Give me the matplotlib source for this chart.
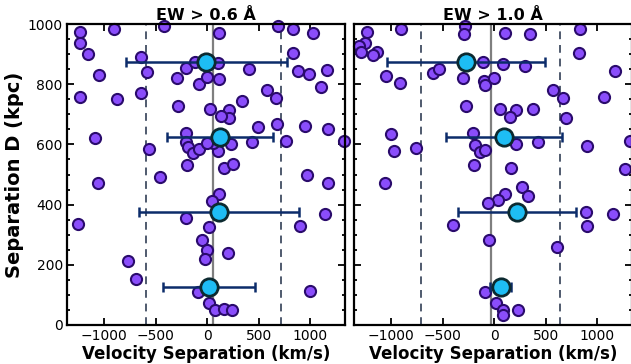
import numpy as np
import matplotlib
matplotlib.use("Agg")
import matplotlib.pyplot as plt
from matplotlib.ticker import MultipleLocator, AutoMinorLocator

# EW > 0.6 A sample
vel_06 = [-1232, -1238, -1152, -909, -419, -1048, -1232, -877, -642, -587, -645, -296, -206, -119,
          -77, -6, -281, 26, 116, 687, 833, 1026, 827, 875, 988, 1162, 1107, 404, 575, 665, 339,
          116, 106, 213, 213, 130, 494, 672, 946, 1166, 1323, 762, 430, 227, 106, 58, 162, 246,
          962, 1171, -1088, -561, -206, -206, -184, -141, -77, -6, -199, -458, -1055, 116, 43,
          -206, 19, -1258, 897, 1139, -54, -6, -22, 203, -771, -690, -87, 19, 75, 162, 242, 994]
dist_06 = [972, 936, 899, 983, 994, 831, 758, 750, 889, 840, 772, 820, 853, 875,
           800, 823, 728, 717, 969, 994, 983, 969, 903, 844, 834, 847, 790, 850, 781, 753, 745,
           816, 869, 714, 687, 694, 659, 667, 661, 650, 612, 612, 609, 601, 579, 604, 521, 535,
           498, 473, 622, 584, 639, 609, 592, 572, 584, 606, 532, 493, 473, 435, 413,
           354, 325, 335, 329, 369, 282, 249, 218, 238, 214, 152, 111, 74, 50, 52, 50, 113]

# EW > 1.0 A sample
vel_10 = [-1235, -1255, -1310, -1290, -1140, -1175, -905, -1050, -914, -594, -536, -286, -290, -300,
          -109, -99, -92, -5, -277, 107, 351, 830, 823, 1170, 85, 296, 568, 662, 1063, 58, 212,
          150, 377, 694, -998, -975, -755, -202, -185, -141, -88, -197, 215, 425, 895, 1316, 160,
          1267, -1060, 268, 328, 102, 37, -65, 888, 895, 1148, -400, -55, 607, -92, 18, 80, 83, 231]
dist_10 = [972, 936, 928, 908, 906, 897, 983, 828, 803, 838, 849, 994, 966, 820,
           873, 810, 797, 822, 728, 969, 966, 983, 903, 845, 866, 862, 781, 753, 758, 717, 714,
           691, 717, 689, 634, 578, 589, 638, 598, 576, 582, 532, 601, 607, 595, 612, 523,
           517, 473, 457, 428, 436, 414, 405, 376, 329, 368, 332, 284, 259, 111, 73, 51, 33, 51]

# binned means
bin_d = [125, 375, 625, 875]
bin_v_06 = [15, 112, 123, -9]
bin_err_06 = [447, 776, 516, 781]
bin_v_10 = [63, 218, 90, -275]
bin_err_10 = [100, 570, 562, 768]

center_06, lo_06, hi_06 = 55, -593, 713
center_10, lo_10, hi_10 = -35, -706, 636

fig = plt.figure(figsize=(6.31, 3.64), dpi=100)
ax1 = fig.add_axes([67 / 631, 39 / 364, 278 / 631, 301 / 364])
ax2 = fig.add_axes([354 / 631, 39 / 364, 278 / 631, 301 / 364])

panels = [(ax1, vel_06, dist_06, bin_v_06, bin_err_06, center_06, lo_06, hi_06, "EW > 0.6 Å"),
          (ax2, vel_10, dist_10, bin_v_10, bin_err_10, center_10, lo_10, hi_10, "EW > 1.0 Å")]

for ax, v, d, bv, be, c, lo, hi, title in panels:
    ax.axvline(c, color="#7f7f7f", lw=1.6, zorder=1)
    ax.axvline(lo, color="#4f5a6e", lw=1.4, ls=(0, (4, 3)), zorder=1)
    ax.axvline(hi, color="#4f5a6e", lw=1.4, ls=(0, (4, 3)), zorder=1)
    ax.plot(v, d, "o", ms=8, mfc="#8a4dfb", mec="#2a0b6c", mew=1.5, ls="none",
            zorder=2, clip_on=False)
    ax.errorbar(bv, bin_d, xerr=be, fmt="none", ecolor="#0c2c6a", elinewidth=1.8,
                capsize=3.5, capthick=1.8, zorder=3)
    ax.plot(bv, bin_d, "o", ms=12.5, mfc="#1ebdf4", mec="#0c2a30", mew=2, ls="none", zorder=4)
    ax.set_xlim(-1360, 1335)
    ax.set_ylim(0, 1000)
    ax.xaxis.set_major_locator(MultipleLocator(500))
    ax.yaxis.set_major_locator(MultipleLocator(200))
    ax.yaxis.set_minor_locator(AutoMinorLocator(4))
    ax.tick_params(which="both", direction="in", top=True, right=True, width=1.3)
    ax.tick_params(which="major", length=5, labelsize=10, pad=3)
    ax.tick_params(which="minor", length=2.5)
    for s in ax.spines.values():
        s.set_linewidth(1.6)
    ax.set_title(title, fontsize=11.5, fontweight="bold", pad=3)
    ax.set_xlabel("Velocity Separation (km/s)", fontsize=12, fontweight="bold", labelpad=1)

ax1.set_ylabel("Separation D (kpc)", fontsize=14, fontweight="bold", labelpad=3)
ax2.tick_params(labelleft=False)

fig.savefig("out.png", dpi=100)
